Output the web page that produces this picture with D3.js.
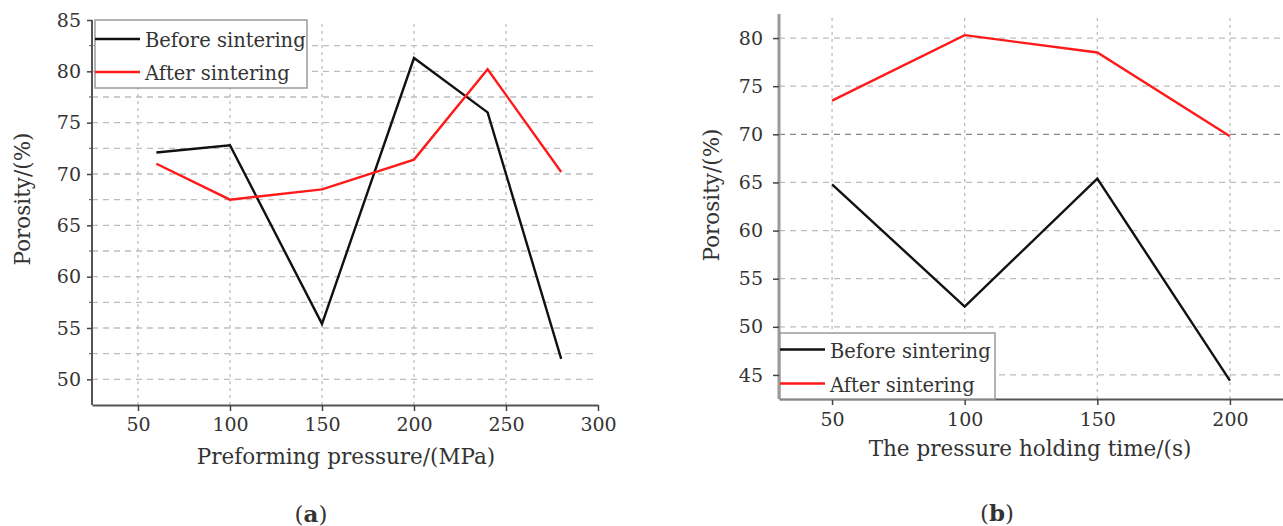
<!DOCTYPE html>
<html><head><meta charset="utf-8">
<script src="https://cdn.jsdelivr.net/npm/d3@7"></script>
<style>body{margin:0;background:#fff}svg{display:block}text{font-family:"DejaVu Serif","Liberation Serif",serif;fill:#333}</style>
</head><body>
<svg id="c" width="1283" height="526"></svg>
<script>
// Panel (a)
const pressureA = [60, 100, 150, 200, 240, 280];
const beforeA = [72.1, 72.8, 55.4, 81.3, 76.0, 52.0];
const afterA = [71.0, 67.5, 68.5, 71.4, 80.2, 70.2];
const xTicksA = [50, 100, 150, 200, 250, 300];
const yTicksA = [50, 55, 60, 65, 70, 75, 80, 85];
// Panel (b)
const timeB = [50, 100, 150, 200];
const beforeB = [64.8, 52.1, 65.4, 44.4];
const afterB = [73.5, 80.3, 78.5, 69.8];
const xTicksB = [50, 100, 150, 200];
const yTicksB = [45, 50, 55, 60, 65, 70, 75, 80];
const seriesNames = ["Before sintering", "After sintering"];
const seriesColors = ["#111", "#ff1a1a"];

const svg = d3.select("#c");

function panel(o) {
  const g = svg.append("g");
  const x = d3.scaleLinear().domain(o.xDom).range(o.xR);
  const y = d3.scaleLinear().domain(o.yDom).range(o.yR);
  // gridlines
  g.append("g").selectAll("line").data(o.hGrid).join("line")
    .attr("x1", o.xR[0]).attr("x2", o.gridRight).attr("y1", d => y(d)).attr("y2", d => y(d))
    .attr("stroke", d => (o.darkGrid && d === o.darkGrid) ? "#888" : "#bdbdbd").attr("stroke-width", 1.3)
    .attr("stroke-dasharray", "6,5");
  g.append("g").selectAll("line").data(o.vGrid).join("line")
    .attr("x1", d => x(d)).attr("x2", d => x(d)).attr("y1", o.yR[0]).attr("y2", o.gridTop)
    .attr("stroke", "#bdbdbd").attr("stroke-width", 1.3).attr("stroke-dasharray", "3,4");
  // minor y ticks
  if (o.minorY) {
    g.append("g").selectAll("line").data(o.minorY).join("line")
      .attr("x1", o.xR[0] - 3).attr("x2", o.xR[0]).attr("y1", d => y(d)).attr("y2", d => y(d))
      .attr("stroke", "#555").attr("stroke-width", 1);
  }
  // axes
  const ax = g.append("g").attr("transform", `translate(0,${o.yR[0]})`)
    .call(d3.axisBottom(x).tickValues(o.xTicks).tickSize(6).tickPadding(o.xPad).tickSizeOuter(0));
  ax.select(".domain").attr("stroke", "#555").attr("stroke-width", 2);
  ax.selectAll(".tick line").attr("stroke", "#444").attr("stroke-width", 1.5);
  ax.selectAll(".tick text").attr("font-size", 19).attr("font-family", "DejaVu Serif").attr("fill", "#333");
  const ay = g.append("g").attr("transform", `translate(${o.xR[0]},0)`)
    .call(d3.axisLeft(y).tickValues(o.yTicks).tickSize(o.ySize).tickPadding(o.yPad).tickSizeOuter(0));
  ay.select(".domain").attr("stroke", o.yAxisColor).attr("stroke-width", o.yAxisW)
    .attr("d", `M0,${o.yR[0]}V${o.yR[1]}`);
  ay.selectAll(".tick line").attr("stroke", "#444").attr("stroke-width", 1.5);
  ay.selectAll(".tick text").attr("font-size", 19).attr("font-family", "DejaVu Serif").attr("fill", "#333");
  g.selectAll(".domain").attr("fill", "none");
  // lines
  const line = d3.line().x(d => x(d[0])).y(d => y(d[1]));
  o.series.forEach((s, i) => {
    g.append("path").datum(o.xs.map((v, k) => [v, s[k]]))
      .attr("d", line).attr("fill", "none").attr("stroke", seriesColors[i])
      .attr("stroke-width", 2.4).attr("stroke-linejoin", "miter");
  });
  // legend
  const L = o.legend;
  g.append("rect").attr("x", L.x).attr("y", L.y).attr("width", L.w).attr("height", L.h)
    .attr("fill", "#fff").attr("stroke", "#9a9a9a").attr("stroke-width", 1.5);
  seriesNames.forEach((n, i) => {
    const ly = L.lineY[i];
    g.append("line").attr("x1", L.x).attr("x2", L.x + 45).attr("y1", ly).attr("y2", ly)
      .attr("stroke", seriesColors[i]).attr("stroke-width", 2.4);
    g.append("text").attr("x", L.x + 50).attr("y", L.textY[i]).attr("font-size", 19.5).text(n);
  });
  // axis titles
  g.append("text").attr("x", o.xTitle[0]).attr("y", o.xTitle[1]).attr("text-anchor", "middle")
    .attr("font-size", 21.5).text(o.xLabel);
  g.append("text").attr("transform", `translate(${o.yTitle[0]},${o.yTitle[1]}) rotate(-90)`)
    .attr("text-anchor", "middle").attr("font-size", 21.5).text("Porosity/(%)");
  const t = g.append("text").attr("x", o.tag[0]).attr("y", o.tag[1]).attr("text-anchor", "middle").attr("font-size", 23);
  t.append("tspan").text("(");
  t.append("tspan").attr("font-weight", "bold").text(o.tagLetter);
  t.append("tspan").text(")");
}

panel({
  xDom: [25, 300], xR: [92, 598], yDom: [47.5, 85], yR: [405, 20],
  hGrid: d3.range(50, 83, 2.5), vGrid: [50, 100, 150, 200, 250], gridRight: 598, gridTop: 21,
  minorY: d3.range(52.5, 85, 5), xTicks: xTicksA, yTicks: yTicksA, xPad: 7, ySize: 5, yPad: 6,
  yAxisColor: "#555", yAxisW: 2,
  xs: pressureA, series: [beforeA, afterA],
  legend: {x: 95, y: 20, w: 212, h: 68, lineY: [39, 72], textY: [46.5, 79.5]},
  xLabel: "Preforming pressure/(MPa)", xTitle: [346, 464], yTitle: [30, 199],
  tag: [311, 522], tagLetter: "a"
});

panel({
  xDom: [30, 220], xR: [779, 1283], yDom: [42.5, 82.5], yR: [399, 14],
  hGrid: yTicksB, vGrid: xTicksB, gridRight: 1283, gridTop: 14, darkGrid: 70,
  minorY: null, xTicks: xTicksB, yTicks: yTicksB, xPad: 8, ySize: 6, yPad: 10,
  yAxisColor: "#9a9a9a", yAxisW: 3,
  xs: timeB, series: [beforeB, afterB],
  legend: {x: 780, y: 333, w: 215, h: 66, lineY: [349.5, 383.5], textY: [357.5, 391.5]},
  xLabel: "The pressure holding time/(s)", xTitle: [1030, 456], yTitle: [719, 195],
  tag: [997, 521], tagLetter: "b"
});
</script>
</body></html>
